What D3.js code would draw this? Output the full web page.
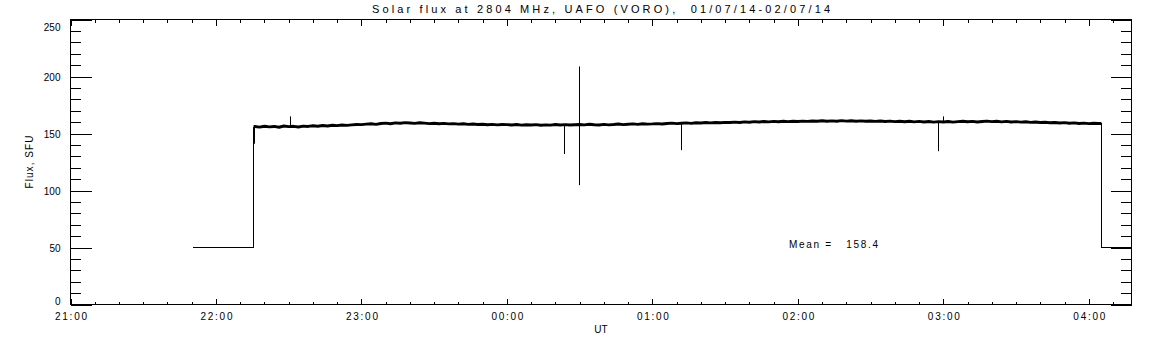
<!DOCTYPE html>
<html lang="en">
<head>
<meta charset="UTF-8">
<title>Solar flux at 2804 MHz</title>
<script src="https://d3js.org/d3.v7.min.js"></script>
<style>
    body { margin: 0; background: #fff; }
    svg { display: block; font-family: "Liberation Sans", Arial, sans-serif; }
    .axis path { display: none; }
    .axis line { stroke: #000; shape-rendering: crispEdges; }
    .axis text { font-size: 10px; fill: #000; }
</style>
</head>
<body>
<svg id="chart" width="1152" height="345"></svg>
<script>
const title = "Solar flux at 2804 MHz, UAFO (VORO),  01/07/14-02/07/14"
const yLabel = "Flux, SFU"
const xLabel = "UT"
const meanLabel = "Mean =   158.4"

const yTicks = [0, 50, 100, 150, 200, 250]
const xRange = ["21:00", "04:17:36"]

// receiver idle level before / after observation
const fillValue = 50
const fillBefore = ["21:50:40", "22:15:30"]
const fillAfter = ["04:05:10", "04:30"]

// flux readings, one every 2 minutes from 22:16
const fluxStart = "22:16"
const fluxStepMin = 2
const flux = [
    156.1, 155.6, 156.4, 155.8, 156.2, 155.5, 156.6, 156.0, 156.3, 155.7, 156.5, 156.2,
    156.8, 156.4, 157.0, 156.6, 157.2, 156.9, 157.5, 157.1, 157.6, 157.9, 157.8,
    158.2, 158.5, 158.0, 158.8, 159.1, 158.6, 159.3, 159.0, 159.5, 159.2, 158.9, 159.4, 159.1, 158.7, 159.0,
    158.6, 158.9, 158.4, 158.7, 158.2, 158.5, 158.0, 158.3, 157.9, 158.1, 157.7, 158.0, 157.6, 157.9, 157.8,
    157.5, 157.9, 157.3, 157.7, 157.4, 157.8, 157.2, 157.6, 157.3, 157.9, 157.5, 157.8, 157.4, 157.7, 157.9,
    157.6, 158.1, 157.7, 157.5, 158.0, 157.6, 157.9, 158.3, 157.8, 158.1, 158.4, 158.0, 158.5, 158.2, 158.4,
    158.7, 158.3, 158.8, 159.1, 158.7, 159.0, 159.3, 158.9, 159.4, 159.2, 159.6, 159.3, 159.7, 159.4, 159.8,
    159.6, 160.0, 159.7, 160.2, 159.9, 160.4, 160.1, 160.5, 160.2, 160.6, 160.3, 160.7, 160.4, 160.8, 160.5,
    160.9, 160.6, 161.0, 160.7, 161.2, 160.8, 161.1, 160.7, 161.3, 160.9, 161.2, 160.8, 161.1, 160.7, 161.0,
    160.6, 161.0, 160.5, 160.9, 160.4, 160.8, 160.3, 160.7, 160.2, 160.6, 160.1, 160.5, 160.0, 160.4, 160.1,
    160.5, 160.0, 160.4, 160.8, 160.3, 160.6, 160.1, 160.5, 160.9, 160.4, 160.7, 160.2, 160.6, 160.1, 160.4,
    160.0, 160.3, 159.8, 160.1, 159.6, 159.9, 159.4, 159.7, 159.2, 159.5, 159.0, 159.3, 158.8, 159.1, 158.7,
    159.0, 158.8
]

// short bursts / dropouts: [time, low, high]
const spikes = [
    ["22:15:30", 141, 156],
    ["22:30:33", 156, 165],
    ["00:23:43", 132, 158],
    ["00:29:39", 104.7, 208.8],
    ["01:12:00", 135.4, 158.5],
    ["02:57:36", 134.5, 160],
    ["02:59:40", 160, 165]
]

// times before noon belong to the next day (02/07/14)
function toDate(s) {
    const p = s.split(':').map(Number)
    const day = p[0] < 12 ? 2 : 1
    return new Date(Date.UTC(2014, 6, day, p[0], p[1], p[2] || 0))
}

const pLeft = 70.5, pRight = 1131.5, pTop = 19.5, pBottom = 304.5

const svg = d3.select('#chart')

const x = d3.scaleUtc()
    .domain(xRange.map(toDate))
    .range([pLeft, pRight])
const y = d3.scaleLinear()
    .domain([0, 250])
    .range([pBottom, pTop])

svg.append('clipPath').attr('id', 'plot-clip')
    .append('rect')
    .attr('x', pLeft).attr('y', pTop)
    .attr('width', pRight - pLeft).attr('height', pBottom - pTop)

// frame
svg.append('rect')
    .attr('x', pLeft).attr('y', pTop)
    .attr('width', pRight - pLeft).attr('height', pBottom - pTop)
    .attr('fill', 'none').attr('stroke', '#000')
    .attr('shape-rendering', 'crispEdges')

const fmt = d3.utcFormat('%H:%M')

// x axes: bottom with labels, top mirrored
svg.append('g').attr('class', 'axis')
    .attr('transform', `translate(0,${pBottom})`)
    .call(d3.axisBottom(x).ticks(d3.utcMinute.every(10)).tickSize(-3).tickFormat(''))
const xb = svg.append('g').attr('class', 'axis')
    .attr('transform', `translate(0,${pBottom})`)
    .call(d3.axisBottom(x).ticks(d3.utcHour.every(1)).tickSize(-6).tickSizeOuter(0)
        .tickPadding(8).tickFormat(fmt))
xb.selectAll('text').attr('textLength', 32).attr('lengthAdjust', 'spacing')
svg.append('g').attr('class', 'axis')
    .attr('transform', `translate(0,${pTop})`)
    .call(d3.axisTop(x).ticks(d3.utcMinute.every(10)).tickSize(-3).tickFormat(''))
svg.append('g').attr('class', 'axis')
    .attr('transform', `translate(0,${pTop})`)
    .call(d3.axisTop(x).ticks(d3.utcHour.every(1)).tickSize(-6).tickFormat(''))

// y axes: left with labels, right mirrored
const yMinor = d3.range(0, 251, 10)
svg.append('g').attr('class', 'axis')
    .attr('transform', `translate(${pLeft},0)`)
    .call(d3.axisLeft(y).tickValues(yMinor).tickSize(-10.5).tickFormat(''))
const yl = svg.append('g').attr('class', 'axis')
    .attr('transform', `translate(${pLeft},0)`)
    .call(d3.axisLeft(y).tickValues(yTicks).tickSize(-21).tickSizeOuter(0).tickPadding(10))
// keep end labels inside the axis span
yl.selectAll('.tick text')
    .attr('dy', d => d === 250 ? '1.05em' : d === 0 ? '-0.05em' : '0.35em')
svg.append('g').attr('class', 'axis')
    .attr('transform', `translate(${pRight},0)`)
    .call(d3.axisRight(y).tickValues(yMinor).tickSize(-10.5).tickFormat(''))
svg.append('g').attr('class', 'axis')
    .attr('transform', `translate(${pRight},0)`)
    .call(d3.axisRight(y).tickValues(yTicks).tickSize(-21).tickFormat(''))

// data
const plot = svg.append('g').attr('clip-path', 'url(#plot-clip)')
const t0 = toDate(fluxStart)
const fluxPts = flux.map((v, i) => [new Date(+t0 + i * fluxStepMin * 60000), v])
const line = d3.line().x(d => x(d[0])).y(d => y(d[1]))

const before = [
    [toDate(fillBefore[0]), fillValue],
    [toDate(fillBefore[1]), fillValue],
    [toDate(fillBefore[1]), flux[0]]
]
const after = [
    [toDate(fillAfter[0]), flux[flux.length - 1]],
    [toDate(fillAfter[0]), fillValue],
    [toDate(fillAfter[1]), fillValue]
]
const fluxLine = [[toDate(fillBefore[1]), flux[0]], ...fluxPts, [toDate(fillAfter[0]), flux[flux.length - 1]]]

plot.selectAll('path.step')
    .data([before, after])
    .join('path')
    .attr('class', 'step')
    .attr('d', line)
    .attr('fill', 'none').attr('stroke', '#000').attr('stroke-width', 1)
    .attr('shape-rendering', 'crispEdges')

plot.append('path')
    .attr('d', line(fluxLine))
    .attr('fill', 'none').attr('stroke', '#000').attr('stroke-width', 2.9)
    .attr('stroke-linejoin', 'round')

plot.selectAll('line.spike')
    .data(spikes)
    .join('line')
    .attr('class', 'spike')
    .attr('x1', d => Math.round(x(toDate(d[0]))) + 0.5)
    .attr('x2', d => Math.round(x(toDate(d[0]))) + 0.5)
    .attr('y1', d => y(d[1]))
    .attr('y2', d => y(d[2]))
    .attr('stroke', '#000').attr('stroke-width', 1)

// texts
svg.append('text')
    .attr('x', (pLeft + pRight) / 2).attr('y', 12.7)
    .attr('text-anchor', 'middle').attr('font-size', 11)
    .attr('textLength', 458).attr('lengthAdjust', 'spacing')
    .style('white-space', 'pre')
    .text(title)

svg.append('text')
    .attr('transform', `translate(33,${(pTop + pBottom) / 2}) rotate(-90)`)
    .attr('text-anchor', 'middle').attr('font-size', 10)
    .attr('textLength', 53).attr('lengthAdjust', 'spacing')
    .text(yLabel)

svg.append('text')
    .attr('x', (pLeft + pRight) / 2).attr('y', 333)
    .attr('text-anchor', 'middle').attr('font-size', 10)
    .text(xLabel)

svg.append('text')
    .attr('x', 789).attr('y', 248)
    .attr('font-size', 10)
    .attr('textLength', 89).attr('lengthAdjust', 'spacing')
    .style('white-space', 'pre')
    .text(meanLabel)
</script>
</body>
</html>
